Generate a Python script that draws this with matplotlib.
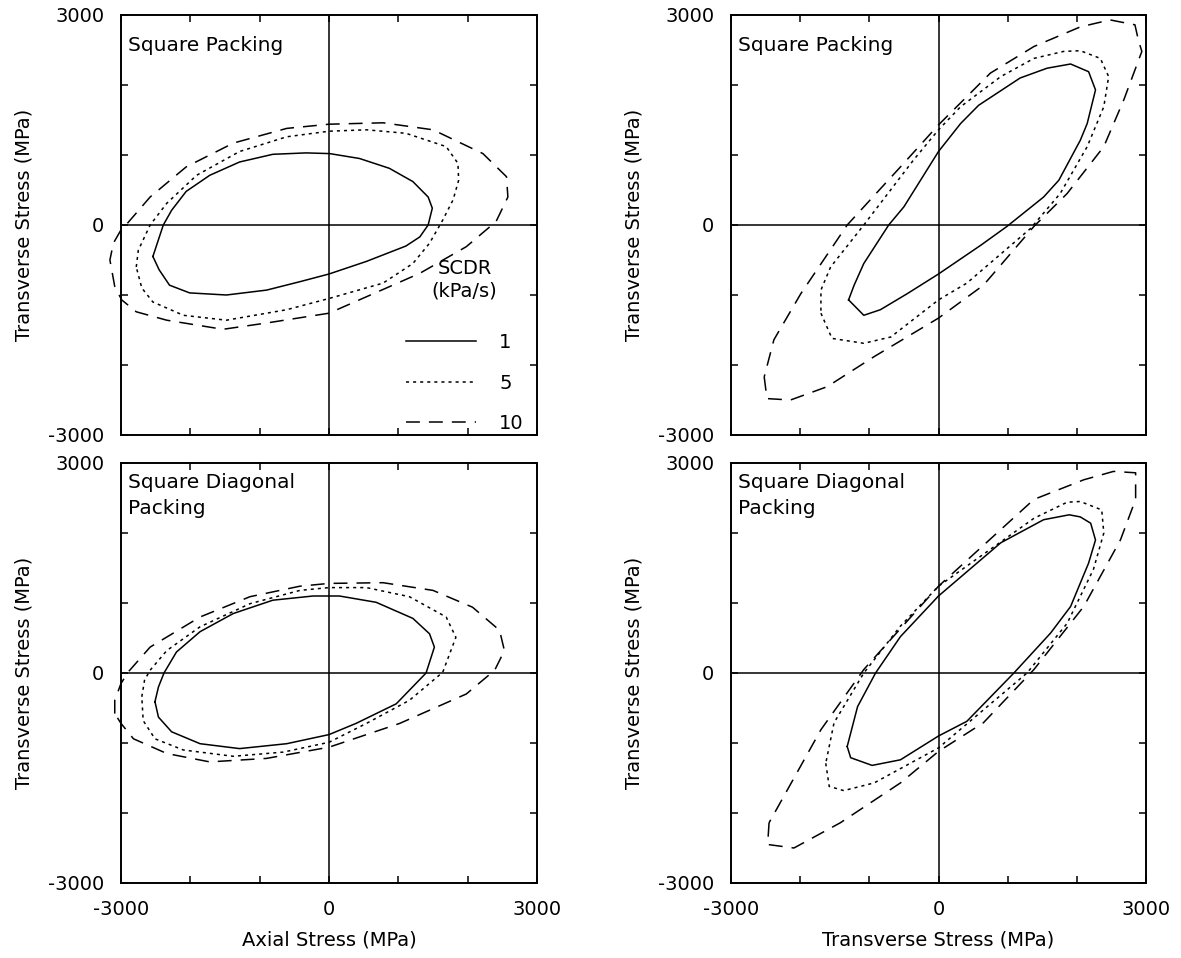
import matplotlib
matplotlib.use("Agg")
import matplotlib.pyplot as plt
from matplotlib.ticker import FixedLocator, FuncFormatter

plt.rcParams["font.family"] = ["DejaVu Sans"]
plt.rcParams["axes.unicode_minus"] = False
plt.rcParams["lines.scale_dashes"] = False

# ---------------------------------------------------------------------------
# Failure envelopes (MPa) for three stress-corrosion damage rates, SCDR (kPa/s)
# ---------------------------------------------------------------------------
scdr_rates = [1, 5, 10]

# Square packing: axial vs transverse stress
sq_ax_1_x = [-2540, -2460, -2390, -2270, -2060, -1720, -1290, -810, -330, 10, 440, 870, 1210,
             1430, 1490, 1430, 1310, 1110, 540, 0, -420, -900, -1480, -2010, -2300, -2450]
sq_ax_1_y = [-450, -210, 0, 210, 480, 710, 900, 1010, 1030, 1020, 950, 810, 620,
             400, 240, 0, -170, -300, -520, -700, -810, -930, -1000, -970, -860, -640]
sq_ax_5_x = [-2780, -2750, -2580, -2340, -1910, -1290, -610, 0, 540, 1110, 1690, 1860, 1870,
             1790, 1640, 1450, 1210, 780, 0, -610, -1480, -2100, -2540, -2700]
sq_ax_5_y = [-600, -360, 0, 310, 710, 1050, 1260, 1340, 1360, 1310, 1120, 880, 640,
             360, 70, -260, -550, -830, -1050, -1210, -1360, -1290, -1100, -900]
sq_ax_10_x = [-3090, -3160, -3110, -3000, -2920, -2580, -2060, -1380, -610, 0, 780, 1500, 2220,
              2560, 2580, 2410, 1980, 1310, 0, -900, -1530, -2340, -2780, -2990]
sq_ax_10_y = [-880, -500, -260, -70, 10, 400, 830, 1170, 1380, 1440, 1460, 1360, 1020,
              690, 400, 50, -310, -690, -1260, -1400, -1490, -1360, -1240, -1070]

# Square packing: transverse vs transverse stress
sq_tr_1_x = [-1300, -1080, -840, -450, 0, 610, 990, 1520, 1740, 2050, 2150, 2270, 2170,
             1910, 1570, 1180, 580, 320, 0, -500, -720, -1080, -1220]
sq_tr_1_y = [-1070, -1290, -1210, -980, -700, -290, -20, 400, 640, 1210, 1450, 1930, 2190,
             2300, 2240, 2100, 1710, 1450, 1050, 260, 0, -550, -860]
sq_tr_5_x = [-1700, -1540, -1080, -690, 0, 410, 1330, 1760, 2150, 2390, 2460, 2340, 2050,
             1810, 1380, 900, 320, 0, -360, -1080, -1560, -1700]
sq_tr_5_y = [-1260, -1620, -1690, -1600, -1070, -830, -50, 450, 1120, 1690, 2120, 2380, 2490,
             2480, 2380, 2120, 1690, 1360, 930, 0, -600, -930]
sq_tr_10_x = [-2520, -2480, -2140, -1610, -930, 0, 650, 1380, 1860, 2390, 2680, 2940, 2890,
              2840, 2480, 2050, 1380, 750, 0, -550, -1320, -1990, -2380]
sq_tr_10_y = [-2170, -2480, -2500, -2310, -1880, -1330, -860, -20, 450, 1120, 1790, 2480, 2640,
              2860, 2930, 2830, 2550, 2170, 1430, 830, 0, -980, -1640]

# Square diagonal packing: axial vs transverse stress
sd_ax_1_x = [-2510, -2460, -2380, -2200, -1860, -1380, -810, -230, 150, 680, 1210, 1450,
             1520, 1400, 970, 390, 0, -610, -1290, -1860, -2270, -2460]
sd_ax_1_y = [-410, -200, 0, 300, 590, 850, 1040, 1100, 1100, 1010, 780, 560,
             370, 0, -440, -720, -880, -1010, -1080, -1010, -840, -630]
sd_ax_5_x = [-2700, -2660, -2580, -2340, -1860, -1140, -420, 0, 540, 1160, 1690, 1830,
             1640, 1160, 540, 0, -660, -1380, -2100, -2510, -2680]
sd_ax_5_y = [-340, -100, 40, 320, 660, 990, 1180, 1220, 1220, 1090, 800, 510,
             10, -390, -720, -990, -1130, -1190, -1100, -940, -680]
sd_ax_10_x = [-3090, -3090, -3000, -2900, -2580, -1860, -1140, -420, 0, 780, 1500, 2070,
              2460, 2530, 2390, 1980, 1020, 0, -900, -1720, -2340, -2820, -3000]
sd_ax_10_y = [-580, -390, -150, 10, 370, 800, 1090, 1240, 1280, 1290, 1180, 940,
              610, 320, 40, -300, -720, -1060, -1220, -1270, -1150, -940, -720]

# Square diagonal packing: transverse vs transverse stress
sd_tr_1_x = [-1320, -1270, -960, -550, 0, 410, 1090, 1620, 1910, 2170, 2270, 2200, 2050,
             1890, 1520, 900, 0, -550, -910, -1170]
sd_tr_1_y = [-1050, -1210, -1320, -1240, -900, -690, 0, 570, 950, 1570, 1900, 2140, 2230,
             2260, 2190, 1860, 1100, 520, 0, -480]
sd_tr_5_x = [-1630, -1580, -1370, -930, 0, 1280, 1860, 2240, 2390, 2360, 2050, 1860,
             1380, 0, -550, -1080, -1510]
sd_tr_5_y = [-1290, -1620, -1680, -1570, -1070, 0, 710, 1480, 2000, 2330, 2450, 2440,
             2210, 1240, 670, 0, -710]
sd_tr_10_x = [-2450, -2470, -2090, -1420, -550, 0, 650, 1380, 2100, 2630, 2850, 2850,
              2530, 2100, 1380, 0, -1080, -1700]
sd_tr_10_y = [-2140, -2450, -2500, -2140, -1570, -1120, -710, 50, 950, 1900, 2480, 2860,
              2880, 2760, 2480, 1240, 50, -810]

tick_values = [-3000, -2000, -1000, 0, 1000, 2000, 3000]
labelled_ticks = [-3000, 0, 3000]

line_styles = {
    1: "-",
    5: (0, (2.2, 2.9)),
    10: (0, (10.0, 6.5)),
}

FS = 14

fig = plt.figure(figsize=(11.81, 9.58), dpi=100)

W, H = 1181.0, 958.0
col_left = [121, 731]
col_width = [416, 415]
row_top = [15, 463]
row_height = 420


def make_axes(row, col):
    x0 = col_left[col] / W
    y0 = (H - row_top[row] - row_height) / H
    return fig.add_axes([x0, y0, col_width[col] / W, row_height / H])


def draw_panel(ax, curves, title, show_x_labels):
    ax.set_xlim(-3000, 3000)
    ax.set_ylim(-3000, 3000)
    ax.axhline(0, color="black", lw=1.1, zorder=1)
    ax.axvline(0, color="black", lw=1.1, zorder=1)
    handles = []
    for rate, xs, ys in curves:
        (ln,) = ax.plot(list(xs) + [xs[0]], list(ys) + [ys[0]], color="black", lw=1.1,
                        linestyle=line_styles[rate], clip_on=False, zorder=3,
                        label=str(rate))
        handles.append(ln)
    for axis in (ax.xaxis, ax.yaxis):
        axis.set_major_locator(FixedLocator(tick_values))
        axis.set_major_formatter(FuncFormatter(
            lambda v, p: f"{int(round(v))}" if int(round(v)) in labelled_ticks else ""))
    ax.tick_params(direction="in", length=5, width=1.1, top=True, right=True,
                   labelsize=FS, pad=12, labelbottom=show_x_labels)
    for sp in ax.spines.values():
        sp.set_linewidth(1.4)
    top_frac = 0.949 if "\n" not in title else 0.975
    ax.text(0.017, top_frac, title, transform=ax.transAxes, ha="left", va="top",
            fontsize=14.5, linespacing=1.45)
    return handles


panels = [
    (0, 0, [(1, sq_ax_1_x, sq_ax_1_y), (5, sq_ax_5_x, sq_ax_5_y), (10, sq_ax_10_x, sq_ax_10_y)],
     "Square Packing"),
    (0, 1, [(1, sq_tr_1_x, sq_tr_1_y), (5, sq_tr_5_x, sq_tr_5_y), (10, sq_tr_10_x, sq_tr_10_y)],
     "Square Packing"),
    (1, 0, [(1, sd_ax_1_x, sd_ax_1_y), (5, sd_ax_5_x, sd_ax_5_y), (10, sd_ax_10_x, sd_ax_10_y)],
     "Square Diagonal\nPacking"),
    (1, 1, [(1, sd_tr_1_x, sd_tr_1_y), (5, sd_tr_5_x, sd_tr_5_y), (10, sd_tr_10_x, sd_tr_10_y)],
     "Square Diagonal\nPacking"),
]

axes = {}
for row, col, curves, title in panels:
    ax = make_axes(row, col)
    h = draw_panel(ax, curves, title, show_x_labels=(row == 1))
    axes[(row, col)] = (ax, h)

# Rate legend in the first panel, with its heading set above the entries
ax0, h0 = axes[(0, 0)]
ax0.legend(h0, [str(r) for r in scdr_rates],
           loc="lower right", bbox_to_anchor=(0.968, 0.005), frameon=False,
           fontsize=FS, handlelength=3.6, handletextpad=1.2,
           labelspacing=1.1, borderpad=0, borderaxespad=0)
ax0.text(0.826, 0.420, "SCDR\n(kPa/s)", transform=ax0.transAxes, ha="center", va="top",
         fontsize=FS, linespacing=1.25)

# Axis titles
for row in range(2):
    yc = (H - row_top[row] - row_height / 2) / H
    fig.text(24 / W, yc, "Transverse Stress (MPa)", rotation=90, ha="center",
             va="center", fontsize=FS)
    fig.text(634 / W, yc, "Transverse Stress (MPa)", rotation=90, ha="center",
             va="center", fontsize=FS)
fig.text((col_left[0] + col_width[0] / 2) / W, (H - 945) / H, "Axial Stress (MPa)",
         ha="center", va="baseline", fontsize=FS)
fig.text((col_left[1] + col_width[1] / 2) / W, (H - 945) / H, "Transverse Stress (MPa)",
         ha="center", va="baseline", fontsize=FS)

fig.savefig("out.png", dpi=100)
